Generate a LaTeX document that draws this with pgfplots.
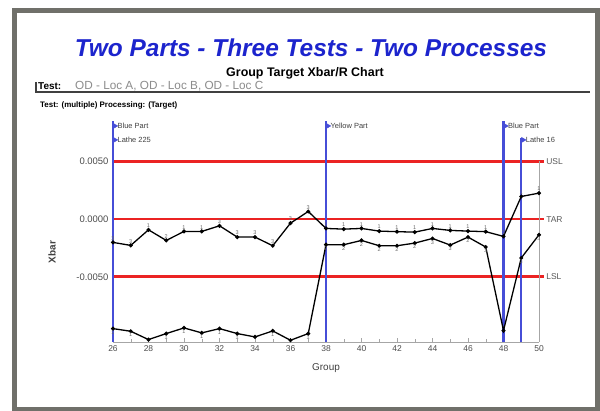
\documentclass[border=0pt]{standalone}
\usepackage{pgfplots}
\usepackage{pgfplotstable}
\pgfplotsset{compat=1.18}
\usepackage{fontspec}
\setmainfont{Liberation Sans}
\definecolor{titleblue}{RGB}{28,36,205}
\definecolor{vblue}{RGB}{70,78,215}
\definecolor{limred}{RGB}{235,35,35}
\definecolor{framegray}{RGB}{112,112,106}

\pgfplotstableread{
x y lab
26 -0.00202 3
27 -0.00228 3
28 -0.00093 1
29 -0.00185 2
30 -0.00107 1
31 -0.00107 1
32 -0.00058 3
33 -0.00156 3
34 -0.00156 3
35 -0.00231 3
36 -0.00035 3
37 0.00066 3
38 -0.00081 1
39 -0.00087 1
40 -0.00081 1
41 -0.00104 1
42 -0.00109 1
43 -0.00113 1
44 -0.00081 1
45 -0.00098 1
46 -0.00104 1
47 -0.00109 1
48 -0.00150 3
49 0.00196 1
50 0.00225 1
}\upperdata

\pgfplotstableread{
x y lab
26 -0.00949 1
27 -0.00972 1
28 -0.01044 {}
29 -0.00992 1
30 -0.00943 1
31 -0.00986 1
32 -0.00949 1
33 -0.00992 1
34 -0.01021 {}
35 -0.00969 1
36 -0.01050 {}
37 -0.00992 1
38 -0.00222 2
39 -0.00222 2
40 -0.00185 2
41 -0.00231 2
42 -0.00231 2
43 -0.00208 2
44 -0.00168 3
45 -0.00225 3
46 -0.00156 2
47 -0.00242 3
48 -0.00966 {}
49 -0.00337 3
50 -0.00136 3
}\lowerdata

\begin{document}
\begin{tikzpicture}
\useasboundingbox (0,0) rectangle (600bp,411bp);
\fill[white] (0,0) rectangle (600bp,411bp);
\draw[framegray, line width=5bp] (14.5bp,1.5bp) rectangle (597.5bp,400.5bp);

\node[font=\fontsize{24.5}{28}\selectfont\bfseries\itshape, text=titleblue, inner sep=0] at (311bp,363bp) {Two Parts - Three Tests - Two Processes};
\node[font=\fontsize{12.5}{14}\selectfont\bfseries, inner sep=0] at (305bp,338bp) {Group Target Xbar/R Chart};
\node[font=\fontsize{10}{12}\selectfont\bfseries, anchor=west, inner sep=0] at (38bp,325bp) {Test:};
\node[font=\fontsize{11.8}{13}\selectfont, text=black!45, anchor=west, inner sep=0] at (75bp,325bp) {OD - Loc A, OD - Loc B, OD - Loc C};
\draw[black!75, line width=1.2bp] (36bp,329bp) -- (36bp,319bp) -- (590bp,319bp);
\node[font=\fontsize{8}{10}\selectfont\bfseries, anchor=west, inner sep=0] at (40bp,306bp) {Test: (multiple) Processing: (Target)};

\begin{axis}[
  at={(113bp,69bp)}, anchor=south west,
  width=426bp, height=221bp, scale only axis,
  xmin=26, xmax=50, ymin=-0.01065, ymax=0.0085,
  axis x line*=bottom, axis y line*=left,
  x axis line style={draw=black!35, -},
  y axis line style={draw=none, -},
  xtick={26,28,...,50}, minor xtick={27,29,...,49},
  ytick={-0.005,0,0.005},
  yticklabels={-0.0050,0.0000,0.0050},
  scaled y ticks=false,
  /pgf/number format/assume math mode=true,
  xticklabel style={font=\fontsize{8.5}{10}\selectfont, text=black!70},
  yticklabel style={font=\fontsize{9.5}{11}\selectfont, text=black!70, xshift=-1bp},
  x tick style={draw=black!35},
  y tick style={draw=none},
  tick align=inside,
  major tick length=4bp, minor tick length=3bp,
  xlabel={Group}, ylabel={\bfseries Xbar},
  xlabel style={at={(axis description cs:0.5,-0.1176)}, anchor=center, font=\fontsize{10}{12}\selectfont, text=black!75},
  ylabel style={at={(axis description cs:-0.1432,0.407)}, anchor=center, font=\fontsize{10}{12}\selectfont, text=black!75},
  clip=false,
]
% limit lines
\addplot[limred, line width=2.6bp, forget plot] coordinates {(26,0.005) (50.3,0.005)};
\addplot[limred, line width=2.6bp, forget plot] coordinates {(26,0) (50.3,0)};
\addplot[limred, line width=2.6bp, forget plot] coordinates {(26,-0.005) (50.3,-0.005)};
% right border
\draw[black!35, line width=0.6bp] (axis cs:50,-0.01065) -- (axis cs:50,0.005);
% process change lines
\addplot[vblue, line width=2.6bp, forget plot] coordinates {(26,-0.01065) (26,0.0085)};
\addplot[vblue, line width=2.6bp, forget plot] coordinates {(38,-0.01065) (38,0.0085)};
\addplot[vblue, line width=2.6bp, forget plot] coordinates {(48,-0.01065) (48,0.0085)};
\addplot[vblue, line width=1.8bp, forget plot] coordinates {(49,-0.01065) (49,0.0070)};
\addplot[only marks, mark=triangle*, mark size=3bp, mark options={rotate=-90, fill=vblue, draw=vblue}, forget plot]
  coordinates {(26.1,0.00807) (26.1,0.00686) (38.1,0.00807) (48.1,0.00807) (49.1,0.00686)};
\node[anchor=west, font=\fontsize{7.5}{9}\selectfont, text=black!75, inner sep=0] at (axis cs:26.25,0.00807) {Blue Part};
\node[anchor=west, font=\fontsize{7.5}{9}\selectfont, text=black!75, inner sep=0] at (axis cs:26.25,0.00686) {Lathe 225};
\node[anchor=west, font=\fontsize{7.5}{9}\selectfont, text=black!75, inner sep=0] at (axis cs:38.25,0.00807) {Yellow Part};
\node[anchor=west, font=\fontsize{7.5}{9}\selectfont, text=black!75, inner sep=0] at (axis cs:48.25,0.00807) {Blue Part};
\node[anchor=west, font=\fontsize{7.5}{9}\selectfont, text=black!75, inner sep=0] at (axis cs:49.25,0.00686) {Lathe 16};
% limit labels
\node[anchor=west, font=\fontsize{8.5}{10}\selectfont, text=black!65, inner sep=0] at (axis cs:50.4,0.005) {USL};
\node[anchor=west, font=\fontsize{8.5}{10}\selectfont, text=black!65, inner sep=0] at (axis cs:50.4,0) {TAR};
\node[anchor=west, font=\fontsize{8.5}{10}\selectfont, text=black!65, inner sep=0] at (axis cs:50.4,-0.005) {LSL};
% data
\addplot[black, line width=1.3bp, mark=*, mark size=1.3bp,
  point meta=explicit symbolic, nodes near coords,
  nodes near coords style={font=\fontsize{5.5}{6}\selectfont, text=black!60, anchor=south, inner sep=1.5bp}]
  table[x=x, y=y, meta=lab] {\upperdata};
\addplot[black, line width=1.3bp, mark=*, mark size=1.3bp,
  point meta=explicit symbolic, nodes near coords,
  nodes near coords style={font=\fontsize{5.5}{6}\selectfont, text=black!60, anchor=north, inner sep=1.2bp}]
  table[x=x, y=y, meta=lab] {\lowerdata};
\end{axis}
\end{tikzpicture}
\end{document}
